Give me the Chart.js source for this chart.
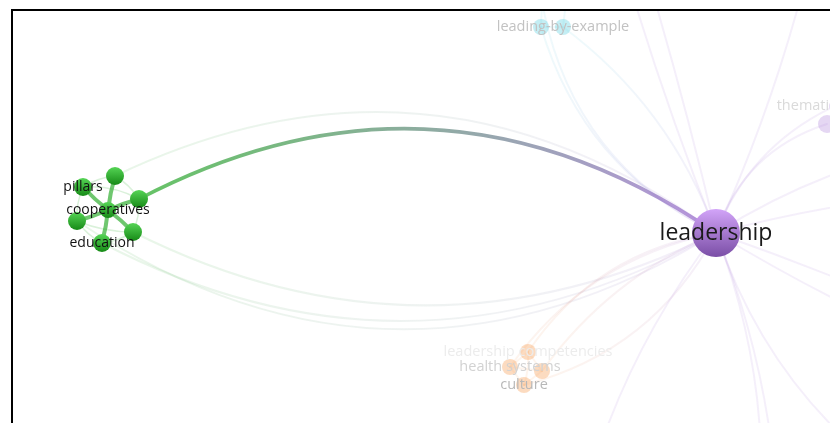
<!DOCTYPE html>
<html>
<head>
<meta charset="utf-8">
<script src="https://cdn.jsdelivr.net/npm/chart.js@4.4.1/dist/chart.umd.min.js"></script>
<style>
  html, body { margin: 0; padding: 0; background: #fff; overflow: hidden; }
  #wrap { width: 830px; height: 423px; position: relative; }
</style>
</head>
<body>
<div id="wrap"><canvas id="network" width="830" height="423"></canvas></div>
<script>
// network map data (layout coordinates)
var nodeLabels = [
  "leadership", "cooperatives", "pillars", "", "", "", "", "education",
  "leadership competencies", "health systems", "", "culture",
  "leading-by-example", "", "", "",
  "thematic analysis", "",
  "", "", "", "", "", "", "", "", "", "", ""
];
var nodeX = [716, 108, 83, 115, 139, 77, 133, 102, 528, 510, 542, 524, 563, 541, 542, 566, 835, 827, 600, 615, 815, 960, 980, 960, 990, 745, 775, 960, 570];
var nodeY = [233, 210, 187, 176, 199, 221, 232, 243, 352, 367, 371, 385, 27, 27, 2, 2, 106, 124, -120, -130, -60, 140, 190, 330, 370, 620, 640, 520, 560];
var nodeWeight = [24, 8, 9, 9, 9, 9, 9, 9, 8, 8, 8, 8, 8, 8, 8, 7, 6, 9, 8, 8, 8, 8, 8, 8, 8, 8, 8, 8, 8];
var nodeCluster = [0, 1, 1, 1, 1, 1, 1, 1, 2, 2, 2, 2, 3, 3, 3, 3, 0, 0, 0, 0, 0, 0, 0, 0, 0, 0, 0, 0, 0];

// links: [from, to, bend]
var links = [
  [1, 2, 0.04], [1, 3, 0.04], [1, 4, 0.04], [1, 5, 0.04], [1, 6, 0.04], [1, 7, 0.04],
  [2, 3, 0.12], [3, 4, 0.12], [4, 6, 0.12], [6, 7, 0.12], [7, 5, 0.12], [5, 2, 0.12], [2, 4, 0.15], [5, 6, -0.1],
  [4, 0, 0.30],
  [3, 0, 0.30], [6, 0, -0.25], [7, 0, -0.27], [5, 0, -0.32],
  [8, 9, 0], [8, 10, 0], [9, 10, 0], [9, 11, 0], [10, 11, 0], [8, 11, 0.1],
  [8, 0, 0.22], [9, 0, 0.2], [10, 0, 0.14], [11, 0, -0.22],
  [13, 0, -0.22], [14, 0, -0.25], [12, 0, 0.15], [12, 13, 0], [13, 14, 0], [12, 15, 0], [14, 15, 0],
  [0, 18, 0.03], [0, 19, -0.02], [0, 20, -0.05],
  [0, 17, 0.25], [0, 16, 0.2], [0, 21, 0.1], [0, 22, 0.05],
  [0, 23, 0.02], [0, 24, -0.04],
  [0, 25, 0.15], [0, 26, 0.12], [0, 27, -0.2], [0, 28, -0.12]
];
var selectedLink = 14;
var focusCluster = 1;

var clusterColors = [[160, 112, 212], [50, 175, 50], [247, 160, 90], [100, 210, 225]];
var fadedLabelColor = { 8: "#ececec", 9: "#d2d2d2", 11: "#b8b8b8", 12: "#c2c2c2", 16: "#dadada" };

function rgba(c, a) {
  return "rgba(" + c[0] + "," + c[1] + "," + c[2] + "," + a + ")";
}

function isActiveNode(i) {
  return nodeCluster[i] === focusCluster || i === links[selectedLink][1];
}

var networkPlugin = {
  id: "network",
  beforeDatasetsDraw: function (chart) {
    var ctx = chart.ctx;
    var xs = chart.scales.x, ys = chart.scales.y;
    function px(i) { return { x: xs.getPixelForValue(nodeX[i]), y: ys.getPixelForValue(nodeY[i]) }; }
    ctx.save();
    ctx.beginPath();
    ctx.rect(13, 11, 817, 412);
    ctx.clip();
    ctx.lineCap = "round";
    // faded links first, highlighted on top
    var order = [];
    links.forEach(function (l, i) {
      var active = i === selectedLink || (nodeCluster[l[0]] === focusCluster && nodeCluster[l[1]] === focusCluster);
      order.push({ l: l, active: active, main: i === selectedLink });
    });
    order.sort(function (a, b) { return (a.active ? 1 : 0) - (b.active ? 1 : 0); });
    order.forEach(function (o) {
      var l = o.l;
      var a = px(l[0]), b = px(l[1]);
      var dx = b.x - a.x, dy = b.y - a.y;
      var cx = (a.x + b.x) / 2 + l[2] * dy;
      var cy = (a.y + b.y) / 2 - l[2] * dx;
      var ca = clusterColors[nodeCluster[l[0]]], cb = clusterColors[nodeCluster[l[1]]];
      var alpha = o.main ? 0.75 : (o.active ? 0.7 : 0.11);
      var g = ctx.createLinearGradient(a.x, a.y, b.x, b.y);
      g.addColorStop(0, rgba(ca, alpha));
      g.addColorStop(1, rgba(cb, alpha));
      ctx.strokeStyle = g;
      ctx.lineWidth = o.main ? 3.5 : (o.active ? (l[2] > 0.1 || l[2] < -0.05 ? 1.5 : 4) : 2);
      if (o.active && !o.main && Math.abs(l[2]) > 0.05) ctx.strokeStyle = rgba(ca, 0.18);
      ctx.beginPath();
      ctx.moveTo(a.x, a.y);
      ctx.quadraticCurveTo(cx, cy, b.x, b.y);
      ctx.stroke();
    });
    ctx.restore();
  },
  afterDatasetsDraw: function (chart) {
    var ctx = chart.ctx;
    var xs = chart.scales.x, ys = chart.scales.y;
    ctx.save();
    ctx.beginPath();
    ctx.rect(13, 11, 817, 412);
    ctx.clip();
    // nodes
    nodeX.forEach(function (v, i) {
      var x = xs.getPixelForValue(nodeX[i]), y = ys.getPixelForValue(nodeY[i]);
      var r = nodeWeight[i];
      var c = clusterColors[nodeCluster[i]];
      if (isActiveNode(i)) {
        var g = ctx.createLinearGradient(0, y - r, 0, y + r);
        if (nodeCluster[i] === 0) {
          g.addColorStop(0, "#d2a4f8");
          g.addColorStop(1, "#7a4ea6");
        } else {
          g.addColorStop(0, "#55d455");
          g.addColorStop(1, "#168a16");
        }
        ctx.fillStyle = g;
      } else {
        ctx.fillStyle = rgba(c, nodeCluster[i] === 0 ? 0.28 : 0.38);
      }
      ctx.beginPath();
      ctx.arc(x, y, r, 0, Math.PI * 2);
      ctx.fill();
    });
    // labels
    ctx.textAlign = "center";
    ctx.textBaseline = "middle";
    nodeLabels.forEach(function (t, i) {
      if (!t) return;
      var x = xs.getPixelForValue(nodeX[i]), y = ys.getPixelForValue(nodeY[i]);
      if (i === 0) {
        ctx.font = "23px 'Open Sans'";
        ctx.fillStyle = "#1a1a1a";
      } else if (isActiveNode(i)) {
        ctx.font = "14px 'Open Sans'";
        ctx.fillStyle = "#111";
      } else {
        ctx.font = "14.5px 'Open Sans'";
        ctx.fillStyle = fadedLabelColor[i] || "#cccccc";
      }
      ctx.fillText(t, x, y);
    });
    ctx.restore();
  },
  afterDraw: function (chart) {
    var ctx = chart.ctx;
    ctx.save();
    ctx.fillStyle = "#000";
    ctx.fillRect(11, 9, 2, 414);
    ctx.fillRect(11, 9, 819, 2);
    ctx.restore();
  }
};

var ctx = document.getElementById("network").getContext("2d");
new Chart(ctx, {
  type: "scatter",
  data: {
    datasets: [
      {
        label: "keywords",
        data: nodeX.map(function (x, i) { return { x: x, y: nodeY[i] }; }),
        pointRadius: 0,
        pointHoverRadius: 0,
      },
    ],
  },
  options: {
    responsive: false,
    animation: false,
    events: [],
    layout: { padding: 0 },
    plugins: {
      legend: { display: false },
      tooltip: { enabled: false },
    },
    scales: {
      x: { type: "linear", min: 0, max: 830, display: false },
      y: { type: "linear", min: 0, max: 423, reverse: true, display: false },
    },
  },
  plugins: [networkPlugin],
});
</script>
</body>
</html>
